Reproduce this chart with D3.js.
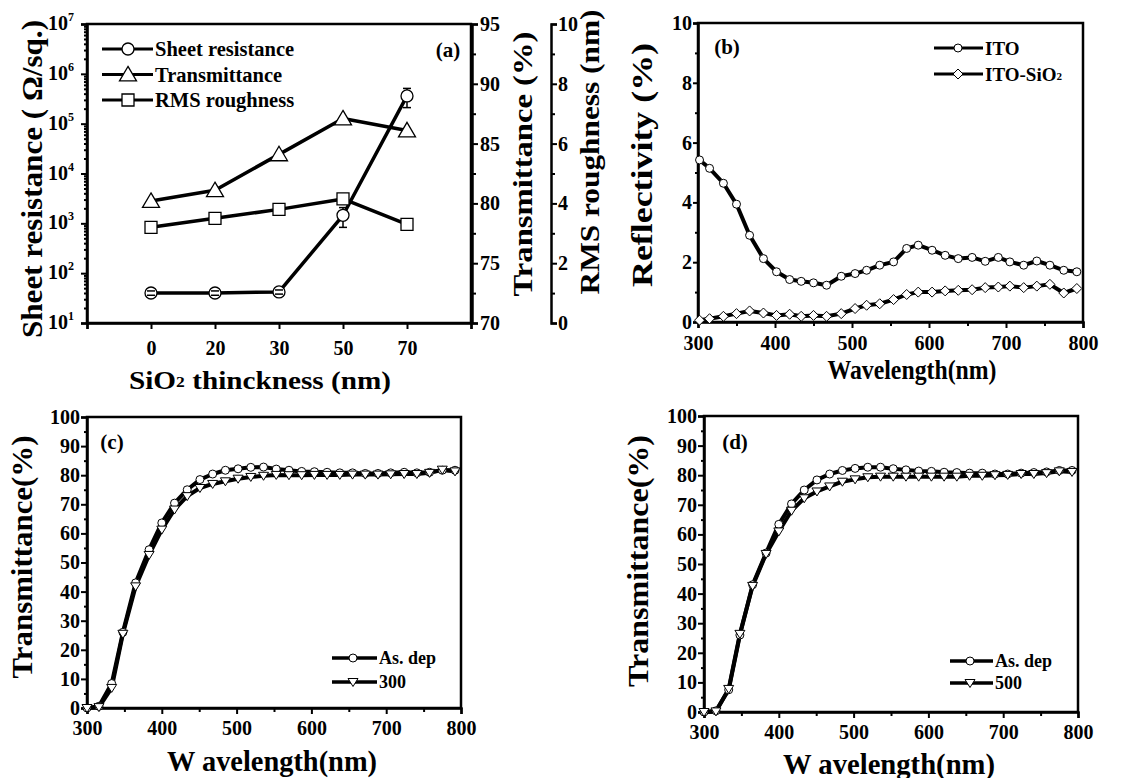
<!DOCTYPE html>
<html>
<head>
<meta charset="utf-8">
<script src="https://cdn.jsdelivr.net/npm/d3@7"></script>
<style>
  body { margin: 0; background: #fff; }
  svg text { font-family: "Liberation Serif", "Times New Roman", serif; font-weight: bold; fill: #000; }
  .axis path, .axis line { stroke: #000; }
</style>
</head>
<body>
<svg id="chart" width="1131" height="778"></svg>
<script>
// ---- panel (a) data ----
var thickness = ["0", "20", "30", "50", "70"]
var sheetRes = [40, 40, 42, 1450, 360000]
var sheetResLo = [36, 36, 38, 830, 210000]
var sheetResHi = [44, 44, 46, 2070, 510000]
var transA = [80.2, 81.1, 84.1, 87.1, 86.1]
var rmsA = [3.2, 3.5, 3.8, 4.15, 3.3]
var logTicks = [1, 2, 3, 4, 5, 6, 7]

// ---- panel (b) data ----
var reflWave = [302, 315, 333, 350, 367, 385, 402, 419, 434, 450, 467, 486, 504, 519, 536,
                554, 571, 586, 604, 621, 638, 656, 673, 690, 705, 723, 740, 757, 775, 792]
var reflITO = [5.42, 5.14, 4.64, 3.94, 2.9, 2.12, 1.68, 1.42, 1.36, 1.31, 1.23, 1.53, 1.62, 1.73, 1.9,
               2.01, 2.46, 2.57, 2.4, 2.23, 2.12, 2.16, 2.03, 2.16, 2.01, 1.9, 2.04, 1.9, 1.73, 1.68]
var reflITOSiO2 = [0.06, 0.11, 0.19, 0.28, 0.37, 0.3, 0.22, 0.26, 0.19, 0.22, 0.19, 0.28, 0.45, 0.56, 0.61,
                   0.75, 0.92, 1.0, 1.0, 1.04, 1.06, 1.08, 1.15, 1.17, 1.2, 1.15, 1.2, 1.26, 0.97, 1.12]

// ---- panels (c), (d) data ----
var transWave = [300, 316, 333, 348, 365, 383, 400, 417, 434, 451, 468, 485, 502, 519, 536,
                 553, 570, 587, 604, 621, 638, 655, 672, 689, 706, 724, 741, 758, 775, 792]
var asDepC = [0, 0.6, 8.4, 26, 43, 54.4, 63.6, 70.4, 75, 78.5, 80.4, 81.7, 82.2, 82.7, 82.8,
              82.1, 81.7, 81.3, 81.2, 81, 80.8, 80.8, 80.6, 80.6, 80.8, 81, 80.8, 81, 81.7, 81.7]
var ann300 = [0, 0.3, 6.9, 25.5, 41.8, 52.6, 61.3, 68.2, 72.8, 75.6, 77, 77.9, 78.8, 79.4, 79.8,
              80.1, 80, 80, 80.1, 80.1, 80.1, 80.2, 80.2, 80.2, 80.3, 80.4, 80.4, 80.8, 81.9, 81.3]
var asDepD = [0, 0.4, 7.5, 26, 43, 53.7, 63.4, 70.3, 75, 78.4, 80.4, 81.6, 82.3, 82.7, 82.7,
              82.2, 81.8, 81.4, 81.3, 81, 80.9, 80.7, 80.7, 80.4, 80.4, 80.7, 80.9, 81.1, 81.6, 81.6]
var ann500 = [0, 0.2, 7.8, 26.4, 42.6, 53.4, 61, 68, 72.2, 74.5, 76.2, 77.8, 78.6, 79.3, 79.5,
              79.5, 79.5, 79.5, 79.5, 79.5, 79.5, 79.8, 79.8, 80, 80.1, 80.4, 80.4, 80.7, 81.3, 81.1]

var svg = d3.select("#chart")
var SERIF = '"Liberation Serif", "Times New Roman", serif'

/* marker shapes, centred on 0,0 */
function markerPath(type, s) {
    var h = s / 2
    if (type == "circle") return d3.symbol().type(d3.symbolCircle).size(Math.PI * h * h)()
    if (type == "square") return "M" + (-h) + "," + (-h) + "H" + h + "V" + h + "H" + (-h) + "Z"
    if (type == "triUp") return "M0," + (-h * 0.95) + "L" + h + "," + (h * 0.75) + "L" + (-h) + "," + (h * 0.75) + "Z"
    if (type == "triDown") return "M0," + (h * 0.9) + "L" + h + "," + (-h * 0.7) + "L" + (-h) + "," + (-h * 0.7) + "Z"
    if (type == "diamond") return "M0," + (-h) + "L" + h + ",0L0," + h + "L" + (-h) + ",0Z"
}

function drawMarkers(g, pts, type, s, sw) {
    g.selectAll(null).data(pts).enter().append("path")
        .attr("d", markerPath(type, s))
        .attr("transform", function(d) { return "translate(" + d[0] + "," + d[1] + ")" })
        .attr("fill", "#fff").attr("stroke", "#000").attr("stroke-width", sw)
}

function drawLine(g, pts, w) {
    g.append("path").datum(pts)
        .attr("d", d3.line())
        .attr("fill", "none").attr("stroke", "#000")
        .attr("stroke-width", w).attr("stroke-linejoin", "round")
}

function styleAxis(sel, fs) {
    sel.attr("class", "axis").attr("font-family", SERIF).attr("font-weight", "bold")
    sel.select(".domain").attr("stroke-width", 2.5)
    sel.selectAll(".tick line").attr("stroke-width", 2)
    sel.selectAll(".tick text").style("font-size", fs + "px")
        .style("font-family", SERIF).style("font-weight", "bold")
}

function minorAxis(axisFn, scale, values, size, x, y) {
    var g = svg.append("g").attr("transform", "translate(" + x + "," + y + ")")
        .call(axisFn(scale).tickValues(values).tickSize(size).tickFormat(""))
    g.select(".domain").remove()
    g.selectAll(".tick line").attr("stroke", "#000").attr("stroke-width", 2)
}

function title(x, y, txt, fs, len, rot, sub) {
    var t = svg.append("text")
        .attr("transform", "translate(" + x + "," + y + ")" + (rot ? " rotate(-90)" : ""))
        .attr("text-anchor", "middle").attr("dominant-baseline", "central")
        .style("font-size", fs + "px")
        .attr("textLength", len).attr("lengthAdjust", "spacingAndGlyphs")
    if (sub) {
        t.append("tspan").text(txt[0])
        t.append("tspan").text("2").style("font-size", (fs * 0.6) + "px").attr("dy", fs * 0.05)
        t.append("tspan").text(txt[1]).attr("dy", -fs * 0.05)
    } else {
        t.text(txt)
    }
    return t
}

function label(x, y, txt, fs, anchor) {
    return svg.append("text").attr("x", x).attr("y", y)
        .attr("text-anchor", anchor || "start").attr("dominant-baseline", "central")
        .style("font-size", fs + "px").text(txt)
}

function frame(x0, x1, y0, y1) {
    svg.append("rect").attr("x", x0).attr("y", y0).attr("width", x1 - x0).attr("height", y1 - y0)
        .attr("fill", "none").attr("stroke", "#000").attr("stroke-width", 2.5)
}

/* ================= panel (a) ================= */
var xa = d3.scaleLinear().domain([-1, 5]).range([87, 471])
var ya = d3.scaleLog().domain([10, 1e7]).range([323, 24])
var yT = d3.scaleLinear().domain([70, 95]).range([323, 24])
var yR = d3.scaleLinear().domain([0, 10]).range([323, 24])

frame(87, 471, 24, 323)

var axL = svg.append("g").attr("transform", "translate(87,0)")
    .call(d3.axisLeft(ya).tickValues(logTicks.map(function(p) { return Math.pow(10, p) })).tickSize(6).tickFormat(""))
styleAxis(axL, 20)
var minorLog = []
for (var p = 1; p < 7; p++) for (var m = 2; m < 10; m++) minorLog.push(m * Math.pow(10, p))
minorAxis(d3.axisLeft, ya, minorLog, 3, 87, 0)
logTicks.forEach(function(p) {
    var t = svg.append("text").attr("x", 74).attr("y", ya(Math.pow(10, p)) + 6)
        .attr("text-anchor", "end").style("font-size", "20px")
    t.append("tspan").text("10")
    t.append("tspan").text(p).style("font-size", "12px").attr("dy", -9)
})

var axB = svg.append("g").attr("transform", "translate(0,323)")
    .call(d3.axisBottom(xa).tickValues([-1, 0, 1, 2, 3, 4, 5]).tickSize(6)
        .tickFormat(function(i) { return thickness[i] || "" }).tickPadding(12))
styleAxis(axB, 20)

var axT = svg.append("g").attr("transform", "translate(472,0)")
    .call(d3.axisRight(yT).tickValues([70, 75, 80, 85, 90, 95]).tickSize(6).tickPadding(2))
styleAxis(axT, 20)
minorAxis(d3.axisRight, yT, [72.5, 77.5, 82.5, 87.5, 92.5], 4, 472, 0)

var axR = svg.append("g").attr("transform", "translate(551,0)")
    .call(d3.axisRight(yR).tickValues([0, 2, 4, 6, 8, 10]).tickSize(6).tickPadding(1))
styleAxis(axR, 20)
minorAxis(d3.axisRight, yR, [1, 3, 5, 7, 9], 4, 551, 0)

var ga = svg.append("g")
var ptsT = transA.map(function(v, i) { return [xa(i), yT(v)] })
var ptsR = rmsA.map(function(v, i) { return [xa(i), yR(v)] })
var ptsS = sheetRes.map(function(v, i) { return [xa(i), ya(v)] })
drawLine(ga, ptsT, 3.5)
drawLine(ga, ptsR, 3.5)
drawLine(ga, ptsS, 3.5)
drawMarkers(ga, ptsT, "triUp", 17, 1.3)
drawMarkers(ga, ptsR, "square", 12, 1.3)
drawMarkers(ga, ptsS, "circle", 12, 1.3)
// error bars
sheetRes.forEach(function(v, i) {
    var cx = xa(i), cy = ya(v), r = 6
    ;[sheetResLo[i], sheetResHi[i]].forEach(function(b) {
        var by = ya(b), dir = by > cy ? 1 : -1
        if (Math.abs(by - cy) > r) {
            ga.append("line").attr("x1", cx).attr("x2", cx).attr("y1", cy + dir * r).attr("y2", by)
                .attr("stroke", "#000").attr("stroke-width", 1.5)
        }
        ga.append("line").attr("x1", cx - 4).attr("x2", cx + 4).attr("y1", by).attr("y2", by)
            .attr("stroke", "#000").attr("stroke-width", 1.5)
    })
})

// legend (a)
var legA = [["circle", 12, "Sheet resistance"], ["triUp", 17, "Transmittance"], ["square", 12, "RMS roughness"]]
legA.forEach(function(d, i) {
    var y = 49 + i * 25.5
    drawLine(ga, [[102, y], [153, y]], 3)
    drawMarkers(ga, [[128, y]], d[0], d[1], 1.3)
    label(155, y, d[2], 20.5)
})
label(448, 50, "(a)", 21, "middle")

title(32, 179, "Sheet resistance ( \u03a9/sq.)", 29, 318, true)
title(523, 164, "Transmittance (%)", 27, 265, true)
title(590, 152, "RMS roughness (nm)", 27, 285, true)
title(260, 380, ["SiO", "  thinckness (nm)"], 26, 262, false, true)

/* ================= panel (b) ================= */
var xb = d3.scaleLinear().domain([300, 800]).range([698, 1083])
var yb = d3.scaleLinear().domain([0, 10]).range([322, 23])
frame(698, 1083, 23, 322)

var bxAx = svg.append("g").attr("transform", "translate(0,322)")
    .call(d3.axisBottom(xb).tickValues([300, 400, 500, 600, 700, 800]).tickSize(6).tickPadding(8))
styleAxis(bxAx, 20)
minorAxis(d3.axisBottom, xb, [350, 450, 550, 650, 750], 4, 0, 322)
var byAx = svg.append("g").attr("transform", "translate(698,0)")
    .call(d3.axisLeft(yb).tickValues([0, 2, 4, 6, 8, 10]).tickSize(5).tickPadding(1))
styleAxis(byAx, 20)
minorAxis(d3.axisLeft, yb, [1, 3, 5, 7, 9], 3, 698, 0)

var gb = svg.append("g")
var ptsITO = reflWave.map(function(w, i) { return [xb(w), yb(reflITO[i])] })
var ptsITOS = reflWave.map(function(w, i) { return [xb(w), yb(reflITOSiO2[i])] })
drawLine(gb, ptsITO, 4)
drawLine(gb, ptsITOS, 4)
drawMarkers(gb, ptsITO, "circle", 8, 1)
drawMarkers(gb, ptsITOS, "diamond", 10, 1)

drawLine(gb, [[934, 48], [983, 48]], 3)
drawMarkers(gb, [[958, 48]], "circle", 8, 1)
label(985, 48, "ITO", 19)
drawLine(gb, [[934, 74], [983, 74]], 3)
drawMarkers(gb, [[958, 74]], "diamond", 10, 1)
var lt = svg.append("text").attr("x", 985).attr("y", 74).attr("dominant-baseline", "central").style("font-size", "19px")
lt.append("tspan").text("ITO-SiO")
lt.append("tspan").text("2").style("font-size", "11px").attr("dy", 2)
label(727, 47, "(b)", 21, "middle")

title(642, 165, "Reflectivity (%)", 29, 244, true)
title(912, 369, "Wavelength(nm)", 28, 169, false)

/* ================= panels (c), (d) ================= */
function transPanel(x0, x1, y0, y1, seriesA, seriesB, nameB, leg, tag, ttlY, ttlX) {
    var x = d3.scaleLinear().domain([300, 800]).range([x0, x1])
    var y = d3.scaleLinear().domain([0, 100]).range([y1, y0])
    frame(x0, x1, y0, y1)
    var ax = svg.append("g").attr("transform", "translate(0," + y1 + ")")
        .call(d3.axisBottom(x).tickValues([300, 400, 500, 600, 700, 800]).tickSize(6).tickPadding(7))
    styleAxis(ax, 20)
    minorAxis(d3.axisBottom, x, [350, 450, 550, 650, 750], 4, 0, y1)
    var ay = svg.append("g").attr("transform", "translate(" + x0 + ",0)")
        .call(d3.axisLeft(y).tickValues(d3.range(0, 101, 10)).tickSize(6).tickPadding(1))
    styleAxis(ay, 20)
    minorAxis(d3.axisLeft, y, d3.range(5, 100, 10), 3, x0, 0)

    var g = svg.append("g")
    var pa = transWave.map(function(w, i) { return [x(w), y(seriesA[i])] })
    var pb = transWave.map(function(w, i) { return [x(w), y(seriesB[i])] })
    drawLine(g, pa, 4)
    drawLine(g, pb, 4)
    drawMarkers(g, pa, "circle", 8, 1)
    drawMarkers(g, pb, "triDown", 10, 1)

    drawLine(g, [[leg[0], leg[3]], [leg[1], leg[3]]], 3.5)
    drawMarkers(g, [[leg[2], leg[3]]], "circle", 8, 1)
    label(leg[1] + 2, leg[3], "As. dep", 18)
    drawLine(g, [[leg[0], leg[4]], [leg[1], leg[4]]], 3.5)
    drawMarkers(g, [[leg[2], leg[4]]], "triDown", 10, 1)
    label(leg[1] + 2, leg[4], nameB, 18)

    label(tag[0], tag[1], tag[2], 21, "middle")
    title(ttlY[0], ttlY[1], "Transmittance(%)", 29, ttlY[2], true)
    title(ttlX[0], ttlX[1], "W avelength(nm)", 30, ttlX[2], false)
}

transPanel(87, 461, 417, 708, asDepC, ann300, "300", [332, 377, 353, 658, 682],
    [112, 442, "(c)"], [22, 557, 243], [272, 760, 210])
transPanel(704, 1078, 416, 712, asDepD, ann500, "500", [950, 993, 970, 661, 683],
    [735, 442, "(d)"], [638, 561, 252], [889, 763, 212])
</script>
</body>
</html>
